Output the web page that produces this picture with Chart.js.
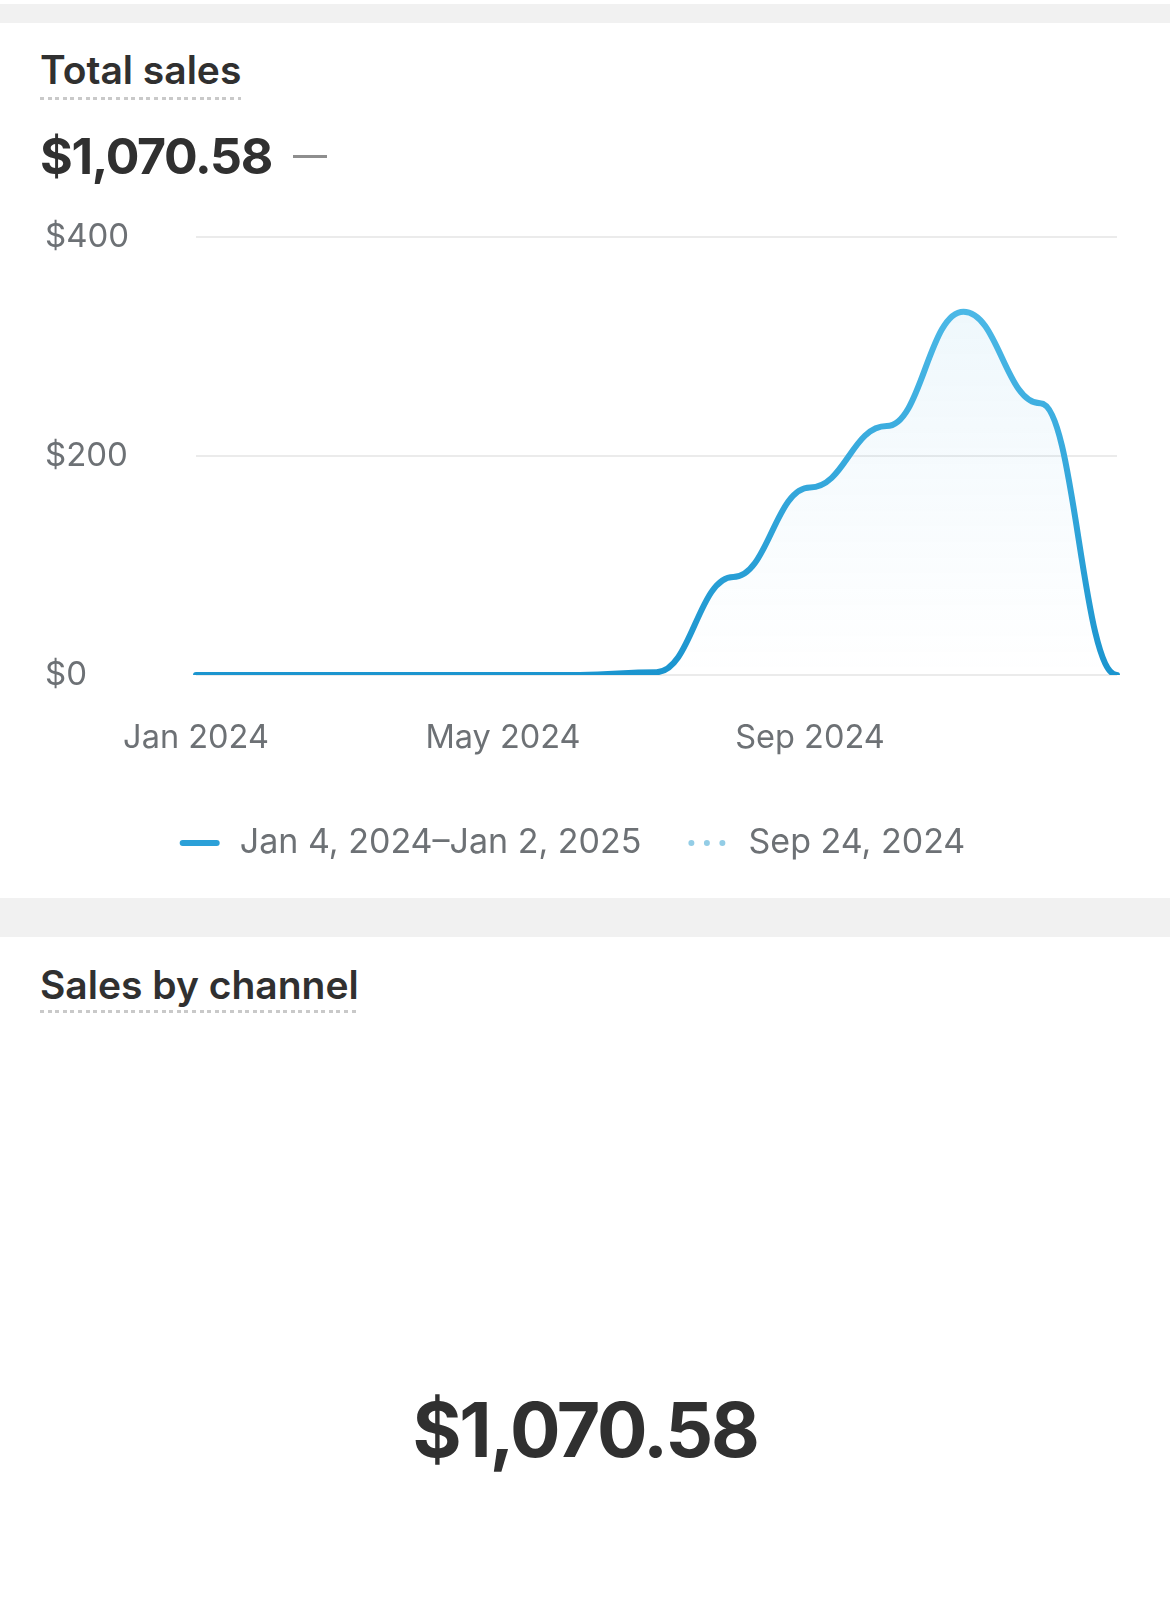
<!DOCTYPE html>
<html>
<head>
<meta charset="utf-8">
<script src="https://cdn.jsdelivr.net/npm/chart.js@4.4.1/dist/chart.umd.min.js"></script>
<style>
  html, body { margin: 0; padding: 0; background: #fff; }
  body { width: 1170px; height: 1611px; position: relative; overflow: hidden; font-family: Inter, "Open Sans", sans-serif; color: #303030; }
  .band { position: absolute; left: 0; width: 1170px; background: #f1f1f1; }
  .title {
    position: absolute; left: 40px; font-size: 39px; font-weight: 600; line-height: 39px; white-space: nowrap;
    background-image: repeating-linear-gradient(to right, #c9c9c9 0 4px, transparent 4px 7.6px);
    background-size: 100% 3px; background-position: left bottom; background-repeat: no-repeat;
  }
  .amount { position: absolute; left: 40px; font-size: 50px; font-weight: 700; line-height: 50px; white-space: nowrap; letter-spacing: -1.3px; }
  .dash { position: absolute; left: 293px; top: 155px; width: 34px; height: 3px; background: #8e8e8e; }
  .big { position: absolute; left: 0; width: 1170px; text-align: center; font-size: 75px; font-weight: 700; line-height: 75px; letter-spacing: -2.3px; }
  #wrap { position: absolute; left: 0; top: 200px; width: 1170px; height: 680px; }
</style>
</head>
<body>
<div class="band" style="top:4px;height:19px"></div>
<div class="title" style="top:50px;padding-bottom:11px">Total sales</div>
<div class="amount" style="top:131px">$1,070.58</div>
<div class="dash"></div>
<div id="wrap"><canvas id="salesChart"></canvas></div>
<div class="band" style="top:898px;height:39px"></div>
<div class="title" style="top:965px;padding-bottom:9px">Sales by channel</div>
<div class="big" style="top:1392px">$1,070.58</div>
<script>
// monthly totals, Jan 2024 -> Jan 2025
var months = ['Jan 2024', 'Feb 2024', 'Mar 2024', 'Apr 2024', 'May 2024', 'Jun 2024', 'Jul 2024',
  'Aug 2024', 'Sep 2024', 'Oct 2024', 'Nov 2024', 'Dec 2024', 'Jan 2025'];
var sales = [0, 0, 0, 0, 0, 0, 2.58, 89.5, 171.3, 227.3, 331.8, 248.1, 0];
var compareSales = []; // comparison period has nothing plotted
var seriesLabels = ['Jan 4, 2024\u2013Jan 2, 2025', 'Sep 24, 2024'];
var xTickLabels = ['Jan 2024', 'May 2024', 'Sep 2024'];
var yTicks = [0, 200, 400];

var grey = '#6d7175';
Chart.defaults.font.family = 'Inter';

// flat tangents at every point (bump style smoothing)
var bumpCurve = {
  id: 'bumpCurve',
  beforeDatasetsDraw: function(chart) {
    var meta = chart.getDatasetMeta(0);
    var pts = meta.data;
    for (var i = 0; i < pts.length; i++) {
      var p = pts[i];
      var dl = i > 0 ? (p.x - pts[i - 1].x) * 0.45 : 0;
      var dr = i < pts.length - 1 ? (pts[i + 1].x - p.x) * 0.45 : 0;
      p.cp1x = p.x - dl; p.cp1y = p.y;
      p.cp2x = p.x + dr; p.cp2y = p.y;
    }
    meta.dataset._pointsUpdated = true;
  }
};

// legend sits a little left of centre
var legendNudge = {
  id: 'legendNudge',
  beforeDraw: function(chart) {
    chart.legend.left -= 7;
    chart.legend.right -= 7;
  }
};

function lineGradient(ctx) {
  var area = ctx.chart.chartArea;
  if (!area) return '#2ea3db';
  var g = ctx.chart.ctx.createLinearGradient(0, area.bottom, 0, area.top);
  g.addColorStop(0, '#1b95cf');
  g.addColorStop(1, '#55bfeb');
  return g;
}

function fillGradient(ctx) {
  var area = ctx.chart.chartArea;
  if (!area) return 'rgba(80,175,225,0.06)';
  var g = ctx.chart.ctx.createLinearGradient(0, area.top, 0, area.bottom);
  g.addColorStop(0, 'rgba(80,175,225,0.11)');
  g.addColorStop(1, 'rgba(80,175,225,0.0)');
  return g;
}

var legendStyles = [
  { color: '#2ba0d8', width: 6, dash: [] },
  { color: '#93cde6', width: 6, dash: [0, 15.5] }
];

var ctx = document.getElementById('salesChart').getContext('2d');
var salesChart = new Chart(ctx, {
  type: 'line',
  data: {
    labels: months,
    datasets: [{
      label: seriesLabels[0],
      data: sales,
      borderColor: lineGradient,
      backgroundColor: fillGradient,
      borderWidth: 6,
      borderCapStyle: 'round',
      fill: 'origin',
      tension: 0.4,
      pointRadius: 0
    },
    {
      label: seriesLabels[1],
      data: compareSales,
      borderColor: '#93cde6',
      borderDash: [0, 15.5],
      borderWidth: 5,
      pointRadius: 0,
      fill: false
    }]
  },
  options: {
    responsive: true,
    maintainAspectRatio: false,
    animation: false,
    layout: { padding: { left: 45, right: 53, top: 37, bottom: 10 } },
    plugins: {
      tooltip: { enabled: false },
      legend: {
        position: 'bottom',
        labels: {
          usePointStyle: true,
          pointStyleWidth: 34,
          padding: 50,
          color: grey,
          font: { size: 34 },
          generateLabels: function(chart) {
            return chart.data.datasets.map(function(ds, i) {
              var s = legendStyles[i];
              return {
                text: '\u2009' + ds.label, datasetIndex: i, hidden: false,
                pointStyle: 'line', strokeStyle: s.color, fillStyle: s.color,
                lineWidth: s.width, lineDash: s.dash, lineCap: 'round', fontColor: grey
              };
            });
          }
        }
      }
    },
    scales: {
      x: {
        grid: { display: false },
        border: { display: false },
        ticks: {
          autoSkip: false,
          maxRotation: 0,
          padding: 36,
          color: grey,
          font: { size: 32.5 },
          callback: function(value) {
            var lab = this.getLabelForValue(value);
            return xTickLabels.indexOf(lab) >= 0 ? lab : '';
          }
        },
        afterFit: function(scale) { scale.height = 101; }
      },
      y: {
        min: 0,
        max: 400,
        border: { display: false },
        grid: { color: '#ebebeb', lineWidth: 2, drawTicks: false },
        ticks: {
          crossAlign: 'far',
          color: grey,
          font: { size: 33 },
          callback: function(v) { return '$' + v; }
        },
        afterBuildTicks: function(scale) {
          scale.ticks = yTicks.map(function(v) { return { value: v }; });
        },
        afterFit: function(scale) { scale.width = 151; }
      }
    }
  },
  plugins: [bumpCurve, legendNudge]
});
</script>
</body>
</html>
